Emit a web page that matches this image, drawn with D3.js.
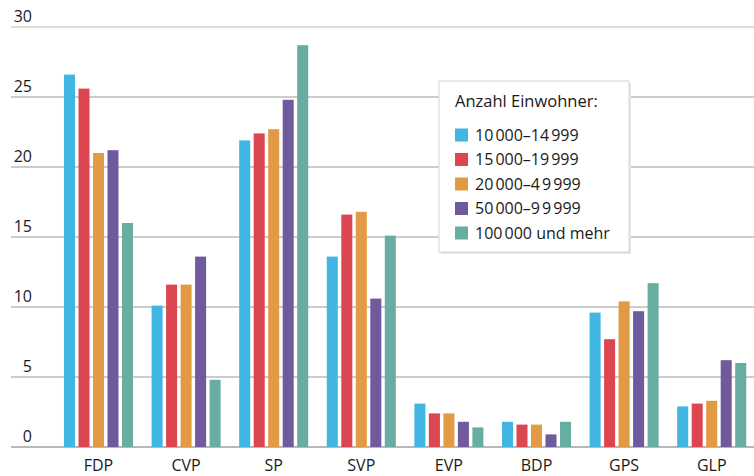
<!DOCTYPE html>
<head>
  <meta charset="utf-8">
  <script src="https://d3js.org/d3.v7.min.js"></script>
  <style>
  body { margin: 0; background: #fff; }
  text { font-family: "Open Sans", "Noto Sans", sans-serif; fill: #1a1a1a; }
  .grid line { stroke: #9a9a9a; stroke-width: 1px; }
</style>
</head>
<body>
<svg width="754" height="476"></svg>

<script type="text/javascript">
// parties along the x axis
var parties = ["FDP", "CVP", "SP", "SVP", "EVP", "BDP", "GPS", "GLP"];
// legend / series names (size of municipality)
var series = ["10\u202F000–14\u202F999", "15\u202F000–19\u202F999", "20\u202F000–4\u202F9\u202F999",
              "50\u202F000–9\u202F9\u202F999", "100\u202F000 und mehr"];
var colors = ["#41b6e2", "#dc4650", "#e39a45", "#6f5a9e", "#68ada2"];
var yTicks = [0, 5, 10, 15, 20, 25, 30];

// one array per series, values per party (in %)
var v10k  = [26.6, 10.1, 21.9, 13.6, 3.1, 1.8, 9.6, 2.9];
var v15k  = [25.6, 11.6, 22.4, 16.6, 2.4, 1.6, 7.7, 3.1];
var v20k  = [21.0, 11.6, 22.7, 16.8, 2.4, 1.6, 10.4, 3.3];
var v50k  = [21.2, 13.6, 24.8, 10.6, 1.8, 0.9, 9.7, 6.2];
var v100k = [16.0, 4.8, 28.7, 15.1, 1.4, 1.8, 11.7, 6.0];
var values = [v10k, v15k, v20k, v50k, v100k];

var svg = d3.select("svg");

var y = d3.scaleLinear().domain([0, 30]).range([447, 27]);

var x = d3.scaleBand()
    .domain(parties)
    .range([54.7, 755.5])
    .paddingInner(0.212)
    .paddingOuter(0.106);

var xs = d3.scaleBand()
    .domain(d3.range(series.length))
    .range([0, x.bandwidth()])
    .paddingInner(0.24);

// gridlines, top and zero line a bit lighter
var grid = svg.append("g").attr("class", "grid");
grid.selectAll("line")
  .data(yTicks)
  .enter().append("line")
    .attr("x1", 11)
    .attr("x2", 754)
    .attr("y1", function(d) { return y(d); })
    .attr("y2", function(d) { return y(d); })
    .style("stroke", function(d) { return (d === 30 || d === 0) ? "#b8b8b8" : null; })
    .style("stroke-width", function(d) { return d === 0 ? 2 : null; });

svg.append("g").selectAll("text")
  .data(yTicks)
  .enter().append("text")
    .attr("x", 32)
    .attr("y", function(d) { return y(d) - 5; })
    .attr("text-anchor", "end")
    .style("font-size", "16px")
    .text(function(d) { return d; });

// bars
var groups = svg.append("g").selectAll("g")
  .data(parties)
  .enter().append("g")
    .attr("transform", function(d) { return "translate(" + x(d) + ",0)"; });

groups.selectAll("rect")
  .data(function(d, i) { return values.map(function(s, j) { return { s: j, v: s[i] }; }); })
  .enter().append("rect")
    .attr("x", function(d) { return xs(d.s); })
    .attr("width", xs.bandwidth())
    .attr("y", function(d) { return y(d.v); })
    .attr("height", function(d) { return y(0) - y(d.v); })
    .style("fill", function(d) { return colors[d.s]; });

// category labels
svg.append("g").selectAll("text")
  .data(parties)
  .enter().append("text")
    .attr("x", function(d) { return x(d) + x.bandwidth() / 2; })
    .attr("y", 471)
    .attr("text-anchor", "middle")
    .style("font-size", "16px")
    .text(function(d) { return d; });

// legend
var lg = svg.append("g").attr("transform", "translate(439,81)");
lg.append("rect")
    .attr("x", 2).attr("y", 2)
    .attr("width", 190).attr("height", 171)
    .style("fill", "#e6e6e6");
lg.append("rect")
    .attr("width", 190).attr("height", 171)
    .style("fill", "#fff")
    .style("stroke", "#d4d4d4");
lg.append("text")
    .attr("x", 16).attr("y", 26)
    .style("font-size", "16.5px")
    .text("Anzahl Einwohner:");
var items = lg.selectAll(".item")
  .data(series)
  .enter().append("g")
    .attr("class", "item")
    .attr("transform", function(d, i) { return "translate(16," + (54 + i * 24.5) + ")"; });
items.append("rect")
    .attr("y", -6.5)
    .attr("width", 13).attr("height", 13)
    .style("fill", function(d, i) { return colors[i]; });
items.append("text")
    .attr("x", 20)
    .attr("y", 5.5)
    .style("font-size", "16px")
    .text(function(d) { return d; });
</script>

</body>
</html>
